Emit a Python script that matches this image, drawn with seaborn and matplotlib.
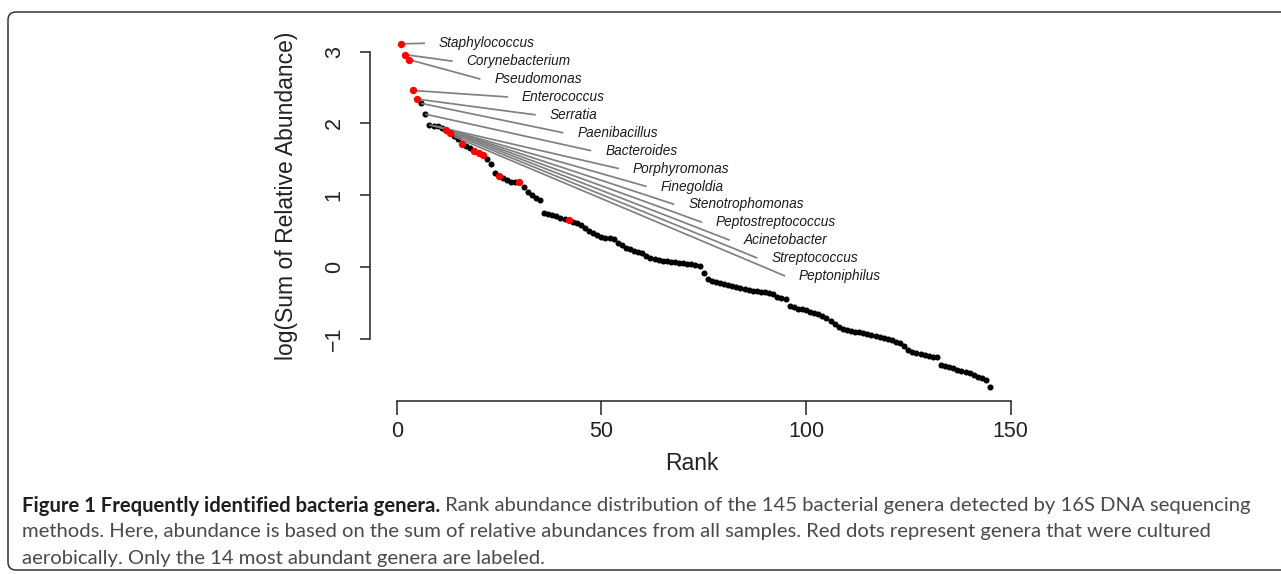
import matplotlib
matplotlib.use('Agg')
import matplotlib.pyplot as plt
import seaborn as sns
import pandas as pd
import numpy as np
from matplotlib.patches import FancyBboxPatch

# ---------------- data ----------------
abundance = [
    3.11, 2.96, 2.89, 2.46, 2.34, 2.28, 2.13, 1.98, 1.97, 1.96,
    1.94, 1.91, 1.87, 1.82, 1.78, 1.72, 1.69, 1.66, 1.62, 1.59,
    1.56, 1.50, 1.43, 1.31, 1.27, 1.24, 1.21, 1.19, 1.18, 1.18,
    1.12, 1.04, 1.01, 0.96, 0.93, 0.75, 0.74, 0.72, 0.71, 0.69,
    0.67, 0.655, 0.63, 0.61, 0.58, 0.54, 0.50, 0.47, 0.44, 0.42,
    0.41, 0.40, 0.39, 0.33, 0.30, 0.27, 0.25, 0.22, 0.21, 0.19,
    0.16, 0.13, 0.11, 0.10, 0.09, 0.08, 0.075, 0.07, 0.06, 0.05,
    0.045, 0.04, 0.03, 0.02, -0.08, -0.16, -0.19, -0.21, -0.22, -0.23,
    -0.25, -0.27, -0.28, -0.29, -0.31, -0.32, -0.33, -0.34, -0.35, -0.355,
    -0.36, -0.37, -0.42, -0.43, -0.445, -0.54, -0.56, -0.58, -0.59, -0.60,
    -0.62, -0.64, -0.66, -0.68, -0.71, -0.75, -0.79, -0.83, -0.86, -0.88,
    -0.89, -0.90, -0.91, -0.92, -0.93, -0.95, -0.96, -0.97, -0.985, -1.00,
    -1.02, -1.04, -1.055, -1.10, -1.15, -1.19, -1.20, -1.21, -1.22, -1.24,
    -1.25, -1.26, -1.37, -1.38, -1.40, -1.41, -1.43, -1.45, -1.46, -1.48,
    -1.51, -1.53, -1.55, -1.57, -1.67,
]
cultured_ranks = [1, 2, 3, 4, 5, 12, 13, 16, 19, 20, 21, 25, 30, 42]
genus_labels = [
    "Staphylococcus", "Corynebacterium", "Pseudomonas", "Enterococcus",
    "Serratia", "Paenibacillus", "Bacteroides", "Porphyromonas",
    "Finegoldia", "Stenotrophomonas", "Peptostreptococcus", "Acinetobacter",
    "Streptococcus", "Peptoniphilus",
]
x_ticks = [0, 50, 100, 150]
y_ticks = [-1, 0, 1, 2, 3]
y_tick_labels = ["\u22121", "0", "1", "2", "3"]

caption_bold = "Figure 1 Frequently identified bacteria genera."
caption_lines = [
    "Rank abundance distribution of the 145 bacterial genera detected by 16S DNA sequencing",
    "methods. Here, abundance is based on the sum of relative abundances from all samples. Red dots represent genera that were cultured",
    "aerobically. Only the 14 most abundant genera are labeled.",
]

# ---------------- figure ----------------
sns.set_theme(style="white")
plt.rcParams["font.family"] = ["Liberation Sans", "DejaVu Sans"]

W, H = 1281, 574
fig = plt.figure(figsize=(W / 100, H / 100), dpi=100)

ax_l, ax_r, ax_t, ax_b = 370.1, 1014.7, 30.2, 400.5
ax = fig.add_axes([ax_l / W, 1 - ax_b / H, (ax_r - ax_l) / W, (ax_b - ax_t) / H])
ax.set_xlim(-6.5, 151)
ax.set_ylim(-1.86, 3.30)

df = pd.DataFrame({"rank": np.arange(1, len(abundance) + 1), "abund": abundance})
df["cultured"] = df["rank"].isin(cultured_ranks)

sns.scatterplot(data=df, x="rank", y="abund", color="black", s=19,
                linewidth=0, ax=ax, zorder=2)

for i, name in enumerate(genus_labels):
    r = df["rank"].iloc[i]
    v = df["abund"].iloc[i]
    ex = 6.9 + 6.77 * i
    ey = 3.118 - 0.2495 * i
    ax.plot([r, ex], [v, ey], color="#808080", lw=1.25, zorder=3,
            solid_capstyle="butt")
    ax.text(10.3 + 6.77 * i, ey, name, style="italic", fontsize=9.8,
            va="center", ha="left", color="#1a1a1a", zorder=5)

sns.scatterplot(data=df[df["cultured"]], x="rank", y="abund", color="#ff0000",
                s=28, linewidth=0, ax=ax, zorder=4)

for s in ["top", "right"]:
    ax.spines[s].set_visible(False)
for s in ["left", "bottom"]:
    ax.spines[s].set_color("#222222")
    ax.spines[s].set_linewidth(1.1)
ax.spines["left"].set_bounds(-1, 3)
ax.spines["bottom"].set_bounds(0, 150)

ax.set_xticks(x_ticks)
ax.set_xticklabels([str(t) for t in x_ticks])
ax.set_yticks(y_ticks)
ax.set_yticklabels(y_tick_labels, rotation=90, va="center")
ax.tick_params(axis="x", bottom=True, length=10, width=1.1, pad=4.5,
               labelsize=15.5, colors="#222222", direction="out")
ax.tick_params(axis="y", left=True, length=7.2, width=1.1, pad=11,
               labelsize=15.5, colors="#222222", direction="out")
ax.set_xlabel("")
ax.set_ylabel("")

fig.text(286.7 / W, 1 - 196 / H, "log(Sum of Relative Abundance)", rotation=90,
         ha="center", va="center", fontsize=16.5, color="#222222")
fig.text(692 / W, 1 - 463 / H, "Rank", ha="center", va="center",
         fontsize=16.5, color="#222222")

# ---------------- caption ----------------
cap_family = ["Lato", "DejaVu Sans"]
cap_x0 = 22
line_y = [504, 530.5, 557]
target_w = 1246 - cap_x0

renderer = fig.canvas.get_renderer()
fs = 12.0
t_b = fig.text(cap_x0 / W, 1 - line_y[0] / H, caption_bold, fontweight="bold",
               family=cap_family, fontsize=fs, va="center_baseline", ha="left",
               color="#1f1f1f")
t_r = fig.text(0, 1 - line_y[0] / H, " " + caption_lines[0], family=cap_family,
               fontsize=fs, va="center_baseline", ha="left", color="#4a4a4a")
wb = t_b.get_window_extent(renderer).width
wr = t_r.get_window_extent(renderer).width
fs = fs * target_w / (wb + wr)
t_b.set_fontsize(fs)
t_r.set_fontsize(fs)
wb = t_b.get_window_extent(renderer).width
t_r.set_x((cap_x0 + wb) / W)
for k in (1, 2):
    fig.text(cap_x0 / W, 1 - line_y[k] / H, caption_lines[k], family=cap_family,
             fontsize=fs, va="center_baseline", ha="left", color="#4a4a4a")

# rounded frame
frame = FancyBboxPatch((8 / 100, (H - 570) / 100), (1290 - 8) / 100, (570 - 12) / 100,
                       boxstyle="round,pad=0,rounding_size=0.08",
                       transform=fig.dpi_scale_trans, fill=False,
                       edgecolor="#333333", linewidth=1.1)
fig.patches.append(frame)

fig.savefig("out.png", dpi=100)
